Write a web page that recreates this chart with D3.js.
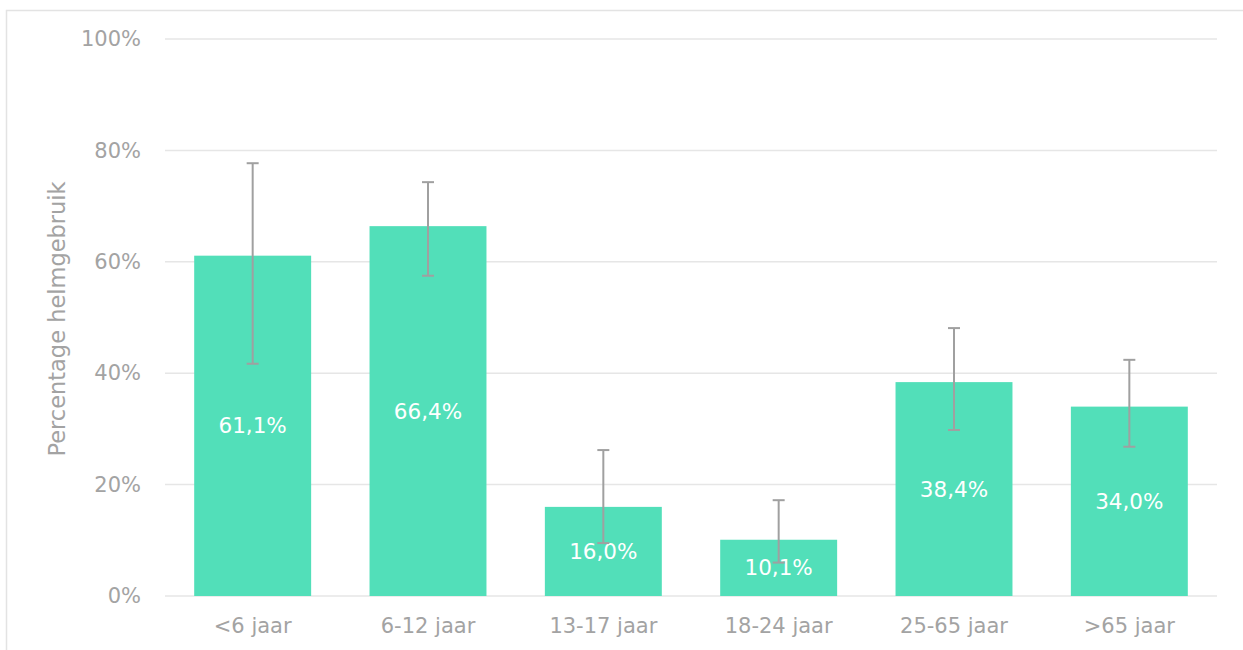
<!DOCTYPE html>
<html><head><meta charset="utf-8">
<script src="https://cdn.jsdelivr.net/npm/d3@7"></script>
<style>html,body{margin:0;padding:0;background:#fff;}svg{display:block;}</style>
</head><body>
<svg id="chart" width="1243" height="650"></svg>
<script>
const categories = ["<6 jaar", "6-12 jaar", "13-17 jaar", "18-24 jaar", "25-65 jaar", ">65 jaar"];
const values = [61.1, 66.4, 16.0, 10.1, 38.4, 34.0];
const lowerCI = [41.7, 57.5, 9.5, 6.0, 29.8, 26.8];
const upperCI = [77.7, 74.3, 26.2, 17.2, 48.1, 42.4];
const yTicks = [0, 20, 40, 60, 80, 100];
const yTitle = "Percentage helmgebruik";

(function () {
const svg = d3.select("#chart");
const font = "'DejaVu Sans', Verdana, sans-serif";
const pLeft = 165, pRight = 1217, pTop = 39, pBottom = 596;

svg.append("rect").attr("x", 6.5).attr("y", 10.5).attr("width", 1300).attr("height", 700)
  .attr("fill", "none").attr("stroke", "#e3e3e3").attr("stroke-width", 1.5);

const x = d3.scaleBand().domain(categories).range([pLeft, pRight]).paddingInner(0.333).paddingOuter(0.1665);
const y = d3.scaleLinear().domain([0, 100]).range([pBottom, pTop]);

svg.append("g").selectAll("line").data(yTicks).join("line")
  .attr("x1", pLeft).attr("x2", pRight)
  .attr("y1", d => y(d)).attr("y2", d => y(d))
  .attr("stroke", "#e6e6e6").attr("stroke-width", 1.5);

const yAxis = d3.axisLeft(y).tickValues(yTicks).tickFormat(d => d + "%").tickSize(0).tickPadding(0);
const ya = svg.append("g").attr("transform", `translate(${141},0)`).call(yAxis);
ya.select(".domain").remove();
ya.selectAll("text").attr("font-family", font).attr("font-size", 21).attr("fill", "#a3a3a3");

const xAxis = d3.axisBottom(x).tickSize(0).tickPadding(0);
const xa = svg.append("g").attr("transform", `translate(0,${618})`).call(xAxis);
xa.select(".domain").remove();
xa.selectAll("text").attr("font-family", font).attr("font-size", 21).attr("fill", "#a3a3a3");

svg.append("text").attr("transform", `translate(65,${319}) rotate(-90)`)
  .attr("text-anchor", "middle").attr("font-family", font).attr("font-size", 22.5)
  .attr("fill", "#a3a3a3").text(yTitle);

svg.append("g").selectAll("rect").data(values).join("rect")
  .attr("x", (d, i) => x(categories[i])).attr("width", x.bandwidth())
  .attr("y", d => y(d)).attr("height", d => y(0) - y(d))
  .attr("fill", "#52dfb9");

svg.append("g").selectAll("text").data(values).join("text")
  .attr("x", (d, i) => x(categories[i]) + x.bandwidth() / 2)
  .attr("y", d => (y(d) + y(0)) / 2)
  .attr("dy", "0.35em").attr("text-anchor", "middle")
  .attr("font-family", font).attr("font-size", 21.5).attr("fill", "#ffffff")
  .text(d => d.toFixed(1).replace(".", ",") + "%");

const eg = svg.append("g").attr("stroke", "#a0a0a0").attr("stroke-width", 2);
categories.forEach((c, i) => {
  const cx = x(c) + x.bandwidth() / 2;
  eg.append("line").attr("x1", cx).attr("x2", cx).attr("y1", y(lowerCI[i])).attr("y2", y(upperCI[i]));
  eg.append("line").attr("x1", cx - 6).attr("x2", cx + 6).attr("y1", y(lowerCI[i])).attr("y2", y(lowerCI[i]));
  eg.append("line").attr("x1", cx - 6).attr("x2", cx + 6).attr("y1", y(upperCI[i])).attr("y2", y(upperCI[i]));
});
})();
</script>
</body></html>
